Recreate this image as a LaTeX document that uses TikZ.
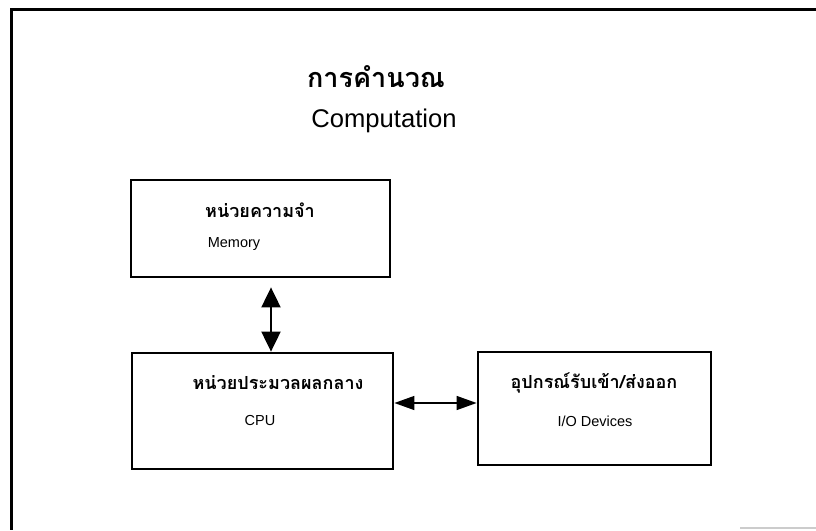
\documentclass[tikz,border=0pt]{standalone}
\usepackage{fontspec}
\setmainfont{Liberation Sans}
\newfontfamily\thaifont[Script=Thai]{Loma}
\usetikzlibrary{arrows.meta}

\tikzset{
  unitbox/.style={draw, line width=2.8pt, minimum width=#1, inner sep=0pt},
  thailabel/.style={font=\thaifont\bfseries\fontsize{18}{21}\selectfont, inner sep=0pt},
  englabel/.style={font=\fontsize{14.5}{17}\selectfont, inner sep=0pt},
  bigarrow/.style={line width=2pt, {Triangle[width=19pt,length=20pt]}-{Triangle[width=19pt,length=20pt]}},
  sidearrow/.style={line width=1.4pt, {Triangle[width=14pt,length=20pt]}-{Triangle[width=14pt,length=20pt]}},
  frameline/.style={line width=3pt}
}

\begin{document}
\begin{tikzpicture}[x=1pt, y=-1pt]
  \useasboundingbox (0,0) rectangle (816,530);

  % outer frame, open on the right and bottom
  \draw[frameline] (816,9.5) -- (11,9.5) -- (11,530);
  \draw[gray!40, line width=1.5pt] (740,528) -- (816,528);

  % heading
  \node[font=\thaifont\bfseries\fontsize{27}{30}\selectfont, inner sep=0pt] (title) at (376,77) {การคำนวณ};
  \node[font=\fontsize{25.6}{30}\selectfont, inner sep=0pt] (subtitle) at (384,121) {Computation};

  % units
  \node[unitbox=259pt, minimum height=97pt] (mem) at (260.5,228.5) {};
  \node[unitbox=261pt, minimum height=116pt] (cpu) at (262.5,411) {};
  \node[unitbox=233pt, minimum height=113pt] (io) at (594.5,408.5) {};

  % unit labels
  \node[thailabel] (memth) at (260,210) {หน่วยความจำ};
  \node[englabel] (memen) at (234,244) {Memory};
  \node[thailabel] (cputh) at (278,383) {หน่วยประมวลผลกลาง};
  \node[englabel] (cpuen) at (260,421) {CPU};
  \node[thailabel] (ioth) at (594,383) {อุปกรณ์รับเข้า/ส่งออก};
  \node[englabel] (ioen) at (595,421) {I/O Devices};

  % data paths
  \coordinate (memlink) at (mem.south -| 271,0);
  \coordinate (cpulink) at (cpu.north -| 271,0);
  \draw[bigarrow, shorten <=9pt] (memlink) -- (cpulink);
  \coordinate (cpuside) at (cpu.east |- 0,403);
  \coordinate (ioside) at (io.west |- 0,403);
  \draw[sidearrow] (cpuside) -- (ioside);
\end{tikzpicture}
\end{document}
